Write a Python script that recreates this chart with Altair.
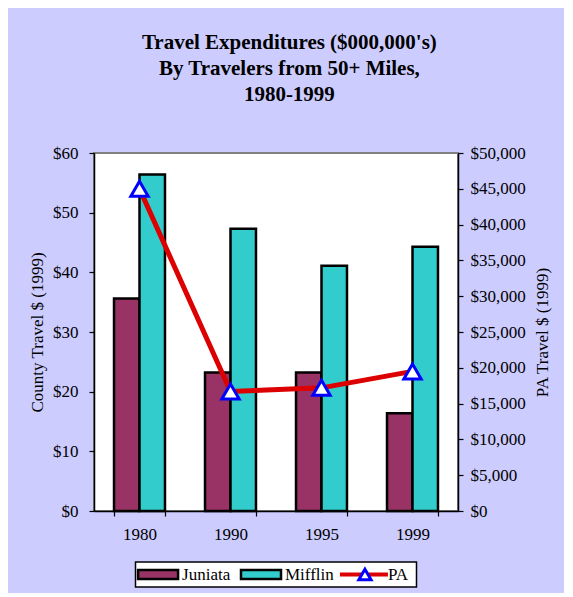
import altair as alt
import pandas as pd

# ---- data ----
years = ["1980", "1990", "1995", "1999"]
counties = ["Juniata", "Mifflin"]
juniata = [35.6, 23.2, 23.2, 16.4]
mifflin = [56.4, 47.3, 41.1, 44.3]
pa = [45000, 16700, 17200, 19500]
legend_items = ["Juniata", "Mifflin", "PA"]

county_colors = ["#993366", "#33CCCC"]
FONT = "Liberation Serif"

bar_df = pd.DataFrame(
    [{"year": y, "county": "Juniata", "value": v} for y, v in zip(years, juniata)]
    + [{"year": y, "county": "Mifflin", "value": v} for y, v in zip(years, mifflin)]
)
pa_df = pd.DataFrame({"year": years, "pa": pa})
leg_df = pd.DataFrame({"item": legend_items})

x_enc = alt.X(
    "year:N",
    sort=years,
    scale=alt.Scale(type="band", paddingInner=0.44, paddingOuter=0.22),
    axis=alt.Axis(title=None, labelAngle=0, tickBand="extent", tickSize=5,
                  labelPadding=10),
)

bars = alt.Chart(bar_df).mark_bar(stroke="black", strokeWidth=2.5).encode(
    x=x_enc,
    xOffset=alt.XOffset("county:N", sort=counties,
                        scale=alt.Scale(domain=counties, paddingInner=0, paddingOuter=0)),
    y=alt.Y("value:Q", scale=alt.Scale(domain=[0, 60], nice=False),
            axis=alt.Axis(title="County Travel $ (1999)", values=list(range(0, 61, 10)),
                          format="$.0f", orient="left", tickSize=5, labelPadding=11,
                          titlePadding=6)),
    color=alt.Color("county:N", scale=alt.Scale(domain=counties, range=county_colors),
                    legend=None),
)

y_pa = alt.Y("pa:Q", scale=alt.Scale(domain=[0, 50000], nice=False),
             axis=alt.Axis(title="PA Travel $ (1999)", values=list(range(0, 50001, 5000)),
                           format="$,.0f", orient="right", tickSize=5, labelPadding=7,
                           titlePadding=9, titleAngle=270, titleBaseline="top"))

line = alt.Chart(pa_df).mark_line(color="#DD0000", strokeWidth=5).encode(
    x=alt.X("year:N", sort=years), y=y_pa)
points = alt.Chart(pa_df).mark_point(shape="triangle-up", filled=True, fill="white",
                                     stroke="#0000FF", strokeWidth=3, size=300,
                                     opacity=1).encode(
    x=alt.X("year:N", sort=years), y=y_pa)

main = alt.layer(bars, alt.layer(line, points)).resolve_scale(y="independent").properties(
    width=364, height=358)

# ---- manual legend ----
leg_x = alt.X("item:N", sort=legend_items,
              scale=alt.Scale(type="band", domain=legend_items, paddingInner=0.27,
                              paddingOuter=0),
              axis=None)
rect_path = "M-1,-0.23H1V0.23H-1Z"
swatch = alt.Chart(leg_df).transform_filter(
    alt.FieldOneOfPredicate(field="item", oneOf=counties)
).mark_point(shape=rect_path, size=1600, filled=True, stroke="black", strokeWidth=2.5,
             opacity=1, xOffset=-15).encode(
    x=leg_x,
    fill=alt.Fill("item:N", scale=alt.Scale(domain=counties, range=county_colors), legend=None),
)
pa_line = alt.Chart(leg_df).transform_filter(alt.datum.item == "PA").mark_point(
    shape="M-1,0H1", size=2304, stroke="#DD0000", strokeWidth=4, opacity=1, xOffset=-15
).encode(x=leg_x)
pa_tri = alt.Chart(leg_df).transform_filter(alt.datum.item == "PA").mark_point(
    shape="triangle-up", size=150, filled=True, fill="white", stroke="#0000FF",
    strokeWidth=3, opacity=1, xOffset=-14
).encode(x=leg_x)
leg_text = alt.Chart(leg_df).mark_text(align="left", baseline="middle", dx=9, font=FONT,
                                       fontSize=17, color="black").encode(
    x=leg_x, text="item:N")

legend = alt.layer(swatch, pa_line, pa_tri, leg_text).properties(
    width=281, height=25,
    view=alt.ViewBackground(fill="white", stroke="black", strokeWidth=1.5),
)

chart = alt.vconcat(main, legend, spacing=51, center=True, bounds="flush").properties(
    title=alt.TitleParams(
        text=["Travel Expenditures ($000,000's)", "By Travelers from 50+ Miles,", "1980-1999"],
        font=FONT, fontSize=21, fontWeight="bold", lineHeight=26, anchor="middle",
        color="black", offset=38,
    ),
    background="#CCCCFF",
    padding={"left": 19, "top": 24, "right": 12, "bottom": 5},
).configure_view(
    fill="white", stroke="#808080", strokeWidth=2
).configure_axis(
    labelFont=FONT, labelFontSize=17, labelColor="black",
    titleFont=FONT, titleFontSize=17, titleFontWeight="normal", titleColor="black",
    domainColor="black", domainWidth=1.5, tickColor="black", tickWidth=1.2,
    grid=False,
)

chart.save("out.html", embed_options={"renderer": "svg", "actions": False})
